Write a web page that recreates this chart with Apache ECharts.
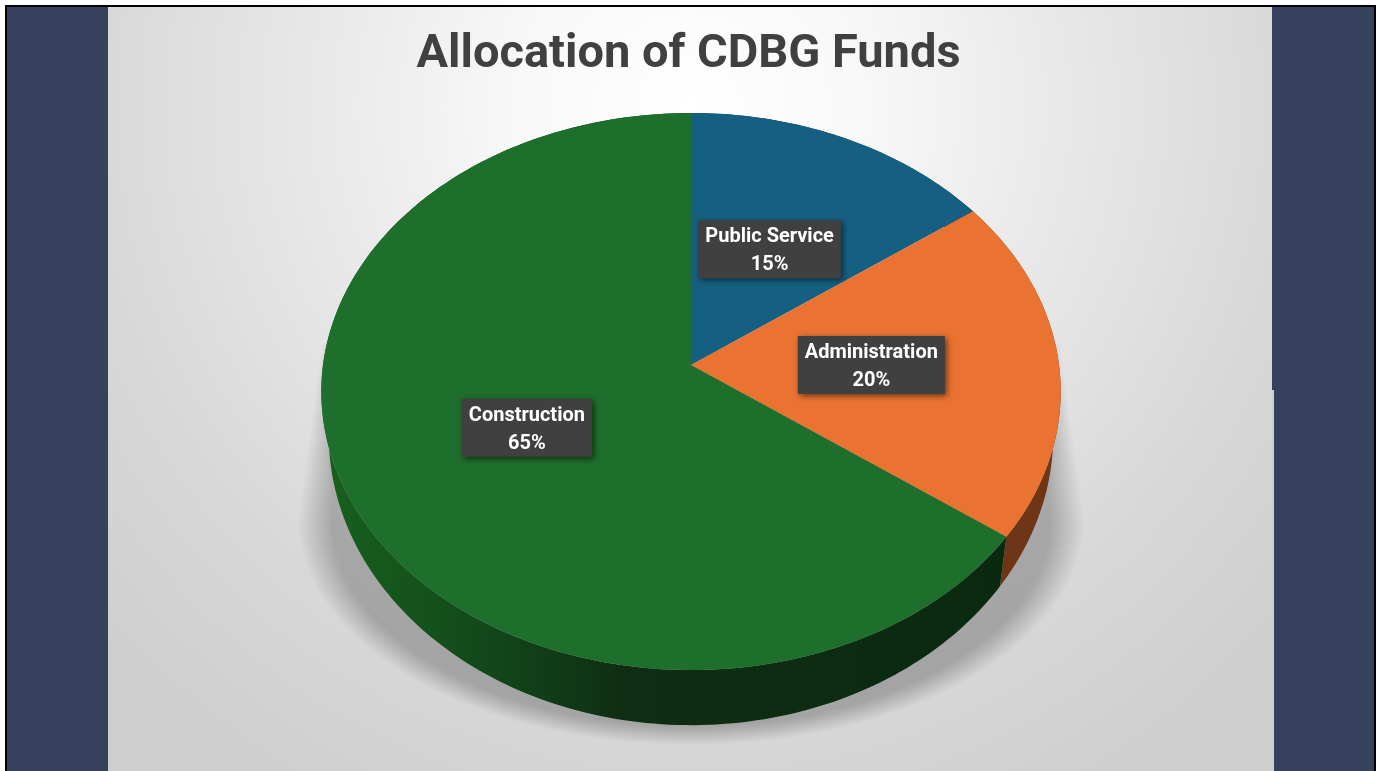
<!DOCTYPE html>
<html>
<head>
<meta charset="utf-8">
<style>html,body{margin:0;padding:0;background:#fff;overflow:hidden}#c{width:1377px;height:771px}</style>
<script src="https://cdn.jsdelivr.net/npm/echarts@6/dist/echarts.min.js"></script>
</head>
<body>
<div id="c"></div>
<script>
var titleText = 'Allocation of CDBG Funds';
var categories = ['Public Service', 'Administration', 'Construction'];
var values = [15, 20, 65];
var topColors = ['#156082', '#ea7331', '#1e6e2c'];

// projection of the tilted disc
var CX = 691, CY = 365, RX = 368, RY = 276, K = 0.0952;
function proj(theta, r) {
  var u = r * Math.sin(theta), v = r * Math.cos(theta), d = 1 + K * v;
  return [CX + RX * u / d, CY - RY * v / d];
}
function lower(p) {
  var dy = p[1] - CY;
  return [CX + (p[0] - CX) * 0.98, CY + dy + 42 + 0.043 * dy];
}
var total = values.reduce(function (a, b) { return a + b; }, 0);
function range(i) {
  var s = 0;
  for (var k = 0; k < i; k++) s += values[k];
  return [s / total * 2 * Math.PI, (s + values[i]) / total * 2 * Math.PI];
}
function arc(a, b) {
  var pts = [], n = Math.max(2, Math.ceil((b - a) / 0.02));
  for (var j = 0; j <= n; j++) pts.push(proj(a + (b - a) * j / n, 1));
  return pts;
}
function sideFill(i) {
  if (i === 1) return '#6e3516';
  if (i === 0) return '#0c3347';
  return {
    type: 'linear', x: 0, y: 0, x2: 1, y2: 0,
    colorStops: [
      { offset: 0, color: '#17601f' },
      { offset: 0.2, color: '#134d1b' },
      { offset: 0.45, color: '#0f2d12' },
      { offset: 1, color: '#0a2a10' }
    ]
  };
}
var rows = categories.map(function (c, i) { return [values[i], c]; });

var option = {
  animation: false,
  backgroundColor: '#ffffff',
  title: {
    text: titleText, left: 'center', top: 27,
    textStyle: { fontFamily: 'Roboto', fontWeight: 'bold', fontSize: 47, color: '#404040' }
  },
  graphic: [
    { type: 'rect', z: -10, shape: { x: 5, y: 5, width: 1371, height: 770 }, style: { fill: '#000' } },
    { type: 'rect', z: -9, shape: { x: 7, y: 7, width: 1367, height: 770 }, style: { fill: '#36415e' } },
    { type: 'rect', z: -8, shape: { x: 1272, y: 390, width: 2, height: 381 }, style: { fill: '#cfcfd6' } },
    { type: 'rect', z: -7, shape: { x: 108, y: 7, width: 1164, height: 770 },
      style: { fill: { type: 'radial', x: 0.5, y: 0.13, r: 1.04, colorStops: [
        { offset: 0, color: '#ffffff' }, { offset: 0.22, color: '#f8f8f8' },
        { offset: 0.44, color: '#eaeaea' }, { offset: 0.75, color: '#d8d8d8' }, { offset: 1, color: '#cecece' } ] } } }
  ],
  series: [
    { // cast shadow under the disc: soft edge from stacked translucent layers
      type: 'custom', coordinateSystem: 'none', z: 1, silent: true,
      data: [[total]],
      renderItem: function () {
        var layers = [], N = 18;
        for (var n = 0; n < N; n++) {
          var f = n / (N - 1), inset = 34 * f, pts = [];
          pts.push([322 + inset * 0.55, 345], [1060 - inset * 0.55, 345]);
          for (var j = 0; j <= 60; j++) {
            var t = Math.PI * j / 60;
            pts.push([CX + (393 - inset) * Math.cos(t), 520 + (225 - inset * 0.55) * Math.sin(t)]);
          }
          layers.push({ type: 'polygon', shape: { points: pts }, style: { fill: 'rgba(0,0,0,0.0135)' } });
        }
        return { type: 'group', children: layers };
      }
    },
    { // side walls
      type: 'custom', coordinateSystem: 'none', z: 2, silent: true,
      data: rows,
      renderItem: function (params, api) {
        var r = range(params.dataIndex);
        api.value(0);
        var t = arc(r[0], r[1]);
        var pts = t.concat(t.slice().reverse().map(lower));
        return { type: 'polygon', shape: { points: pts }, style: { fill: sideFill(params.dataIndex) } };
      }
    },
    { // top faces
      type: 'custom', coordinateSystem: 'none', z: 3, silent: true,
      data: rows,
      renderItem: function (params, api) {
        var r = range(params.dataIndex);
        api.value(0);
        var pts = [[CX, CY]].concat(arc(r[0], r[1]));
        return { type: 'polygon', shape: { points: pts }, style: { fill: topColors[params.dataIndex] } };
      }
    },
    { // data labels
      type: 'custom', coordinateSystem: 'none', z: 4, silent: true,
      data: rows,
      renderItem: function (params, api) {
        var r = range(params.dataIndex);
        var p = proj((r[0] + r[1]) / 2, 0.49);
        var name = categories[params.dataIndex];
        var pct = Math.round(api.value(0) / total * 100) + '%';
        var font = 'bold 20px Roboto';
        var w = echarts.format.getTextRect(name, font).width + 14;
        var h = 58;
        return { type: 'group', x: p[0], y: p[1], children: [
          { type: 'rect', shape: { x: -w / 2, y: -h / 2, width: w, height: h },
            style: { fill: '#404040', shadowColor: 'rgba(0,0,0,0.55)', shadowBlur: 6, shadowOffsetX: 2, shadowOffsetY: 2 } },
          { type: 'text', x: 0, y: 2, z2: 5, style: {
            text: name + '\n' + pct,
            fontFamily: 'Roboto', fontWeight: 'bold', fontSize: 20, lineHeight: 28,
            fill: '#ffffff', align: 'center', verticalAlign: 'middle'
          } }
        ] };
      }
    }
  ]
};
var chart = echarts.init(document.getElementById('c'));
chart.setOption(option);
</script>
</body>
</html>
